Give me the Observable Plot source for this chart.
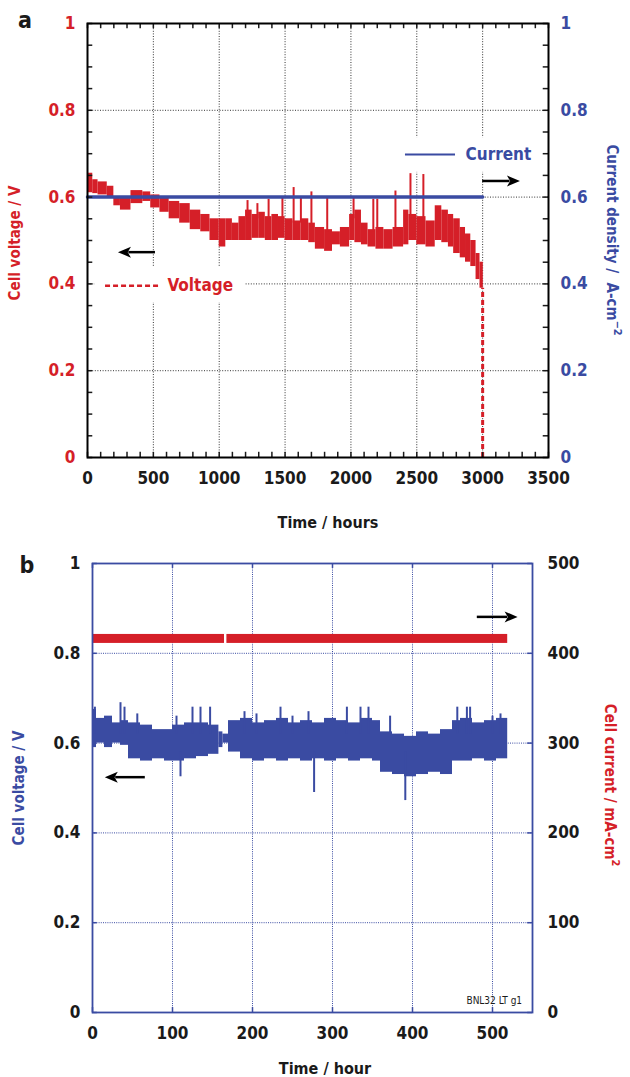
<!DOCTYPE html>
<html><head><meta charset="utf-8">
<script src="https://cdn.jsdelivr.net/npm/d3@7"></script>
<script src="https://cdn.jsdelivr.net/npm/@observablehq/plot@0.6"></script>
<style>
body{margin:0;background:#fff;}
#wrap{position:relative;width:630px;height:1077px;overflow:hidden;background:#fff;}
#pa{position:absolute;left:0;top:0;}
#pb{position:absolute;left:0;top:540px;}
</style></head><body><div id="wrap"><div id="pa"></div><div id="pb"></div></div>
<script>
// ---------- Panel a data ----------
const voltT  = [0,40,80,150,200,250,330,420,480,550,620,700,780,860,930,
  1000,1050,1100,1150,1200,1250,1300,1350,1400,1450,1500,1560,1620,1680,1730,1800,1860,1920,
  1990,2030,2080,2130,2190,2250,2320,2400,2440,2500,2570,2640,2690,2740,2780,2830,2870,2910,2950,2980];
const voltEnd = 3005;
const voltLo = [0.61,0.608,0.605,0.6,0.58,0.57,0.585,0.59,0.575,0.565,0.55,0.54,0.525,0.52,0.5,
  0.485,0.5,0.5,0.5,0.5,0.505,0.505,0.5,0.5,0.505,0.5,0.5,0.5,0.495,0.48,0.475,0.49,0.485,
  0.5,0.495,0.49,0.485,0.48,0.48,0.485,0.49,0.5,0.49,0.485,0.5,0.495,0.485,0.47,0.46,0.45,0.44,0.41,0.39];
const voltHi = [0.655,0.64,0.635,0.625,0.6,0.6,0.615,0.612,0.605,0.6,0.59,0.585,0.57,0.56,0.55,
  0.55,0.55,0.54,0.555,0.57,0.56,0.565,0.555,0.56,0.555,0.55,0.545,0.55,0.54,0.53,0.525,0.52,0.53,
  0.56,0.57,0.54,0.525,0.53,0.525,0.53,0.57,0.56,0.555,0.545,0.58,0.57,0.56,0.55,0.53,0.515,0.5,0.47,0.45];
const spikeAT    = [1215,1290,1375,1480,1565,1620,1700,1820,2020,2170,2200,2338,2452,2550];
const spikeATop  = [0.592,0.585,0.595,0.6,0.622,0.6,0.612,0.597,0.6,0.595,0.595,0.614,0.654,0.652];
const spikeABase = [0.55,0.55,0.55,0.54,0.54,0.54,0.53,0.52,0.55,0.52,0.52,0.52,0.55,0.55];
const dropAT = [3000], dropAFrom = [0.39], dropATo = [0];
const currAT = [0, 3000];
const currAV = [0.6, 0.6];
const xTicksA = [0,500,1000,1500,2000,2500,3000,3500];
const yTicksA = [0,0.2,0.4,0.6,0.8,1];

// ---------- Panel b data ----------
const voltBT  = [0,5,15,25,35,45,60,75,90,100,115,130,145,158,163,170,185,200,215,230,245,260,275,290,305,320,335,350,360,375,390,405,420,435,450,460,475,490,505];
const voltBEnd = 519;
const voltBLo = [0.59,0.6,0.59,0.6,0.595,0.565,0.56,0.565,0.56,0.56,0.565,0.57,0.575,0.59,0.6,0.58,0.565,0.56,0.565,0.56,0.565,0.56,0.565,0.56,0.565,0.56,0.565,0.56,0.535,0.53,0.525,0.53,0.535,0.53,0.56,0.56,0.565,0.56,0.565];
const voltBHi = [0.675,0.655,0.66,0.645,0.65,0.645,0.64,0.63,0.63,0.64,0.645,0.645,0.64,0.625,0.62,0.65,0.655,0.645,0.65,0.655,0.645,0.65,0.645,0.655,0.65,0.645,0.655,0.65,0.625,0.62,0.615,0.625,0.62,0.63,0.65,0.655,0.645,0.65,0.655];
const upBT   = [3,35,40,56,105,125,135,147,190,205,235,250,270,318,335,345,372,456,468,472,500,510];
const upBTop = [0.68,0.69,0.68,0.665,0.66,0.68,0.68,0.68,0.67,0.665,0.68,0.66,0.67,0.68,0.68,0.68,0.66,0.68,0.68,0.68,0.66,0.665];
const upBBase = 0.62;
const dnBT   = [110,277,391];
const dnBBot = [0.525,0.49,0.472];
const dnBTop = 0.58;
const currBStart = [0,168];
const currBEnd   = [165,519];
const currBLo = 411, currBHi = 421;   // mA/cm2
const xTicksB = [0,100,200,300,400,500];
const yTicksB = [0,0.2,0.4,0.6,0.8,1];
const yTicksBRight = [0,100,200,300,400,500];

// ---------- styling ----------
const RED = "#d51f28", BLUE = "#3a4ba2", BLK = "#1a1a1a";
const FONT = "'DejaVu Sans Condensed','DejaVu Sans',sans-serif";
const fmt1 = d => String(+(+d).toFixed(1));

// ---------- Panel a ----------
const voltRows = voltT.map((t,i)=>({x1:t, x2: i<voltT.length-1 ? voltT[i+1] : voltEnd, lo: voltLo[i], hi: voltHi[i]}));
const spikeRows = spikeAT.map((t,i)=>({t, b: spikeABase[i], top: spikeATop[i]}));
const dropRows = dropAT.map((t,i)=>({t, from: dropAFrom[i], to: dropATo[i]}));
const currRows = currAT.map((t,i)=>({t, v: currAV[i]}));
const minorXA = d3.range(0, 3501, 100), minorYA = d3.range(0, 1.0001, 0.05);
const tkxA = 40, tkyA = 0.012;

const plotA = Plot.plot({
  width: 630, height: 540,
  marginTop: 23, marginBottom: 83, marginLeft: 87, marginRight: 82,
  x: {domain: [0, 3500]}, y: {domain: [0, 1]},
  style: {fontFamily: FONT, fontSize: "17px", fontWeight: "bold", background: "white", overflow: "visible", fontStretch: "condensed"},
  marks: [
    Plot.ruleX([500,1000,1500,2000,2500,3000], {stroke: "#333", strokeDasharray: "1,1.6", strokeWidth: 1}),
    Plot.ruleY([0.2,0.4,0.6,0.8], {stroke: "#333", strokeDasharray: "1,1.6", strokeWidth: 1}),
    Plot.rect([{x1:60,x2:1200,y1:0.357,y2:0.438},{x1:2376,x2:3439,y1:0.657,y2:0.737}], {x1:"x1",x2:"x2",y1:"y1",y2:"y2",fill:"white"}),
    Plot.rect(voltRows, {x1:"x1", x2:"x2", y1:"lo", y2:"hi", fill: RED}),
    Plot.ruleX(spikeRows, {x:"t", y1:"b", y2:"top", stroke: RED, strokeWidth: 2}),
    Plot.ruleX(dropRows, {x:"t", y1:"to", y2:"from", stroke: RED, strokeWidth: 3, strokeDasharray: "5,3"}),
    Plot.line(currRows, {x:"t", y:"v", stroke: BLUE, strokeWidth: 3.5}),
    // legend
    Plot.ruleY([0.396], {x1: 137, x2: 554, stroke: RED, strokeWidth: 2.5, strokeDasharray: "5,3"}),
    Plot.text(["Voltage"], {x: 607, y: 0.396, text: d=>d, textAnchor: "start", fill: RED, fontSize: 17, fontWeight: "bold"}),
    Plot.ruleY([0.698], {x1: 2414, x2: 2794, stroke: BLUE, strokeWidth: 2}),
    Plot.text(["Current"], {x: 2870, y: 0.698, text: d=>d, textAnchor: "start", fill: BLUE, fontSize: 17, fontWeight: "bold"}),
    // inward ticks
    Plot.ruleX(minorXA, {x: d=>d, y1: 0, y2: tkyA, stroke: BLK, strokeWidth: 1.5}),
    Plot.ruleX(minorXA, {x: d=>d, y1: 1-tkyA, y2: 1, stroke: BLK, strokeWidth: 1.5}),
    Plot.ruleY(minorYA, {y: d=>d, x1: 0, x2: tkxA, stroke: BLK, strokeWidth: 1.5}),
    Plot.ruleY(minorYA, {y: d=>d, x1: 3500-tkxA, x2: 3500, stroke: BLK, strokeWidth: 1.5}),
    Plot.axisX({anchor: "bottom", ticks: xTicksA, tickSize: 0, tickPadding: 14, tickFormat: d=>String(d), label: null, fill: BLK}),
    Plot.axisY({anchor: "left", ticks: yTicksA, tickSize: 0, tickPadding: 12, tickFormat: fmt1, label: null, fill: RED}),
    Plot.axisY({anchor: "right", ticks: yTicksA, tickSize: 0, tickPadding: 12, tickFormat: fmt1, label: null, fill: BLUE}),
    Plot.frame({stroke: "#000", strokeWidth: 2})
  ]
});
document.getElementById("pa").appendChild(plotA);

// ---------- Panel b ----------
const voltBRows = voltBT.map((t,i)=>({x1:t, x2: i<voltBT.length-1 ? voltBT[i+1] : voltBEnd, lo: voltBLo[i], hi: voltBHi[i]}));
const upRows = upBT.map((t,i)=>({t, b: upBBase, top: upBTop[i]}));
const dnRows = dnBT.map((t,i)=>({t, b: dnBBot[i], top: dnBTop}));
const currBRows = currBStart.map((s,i)=>({x1: s, x2: currBEnd[i], lo: currBLo, hi: currBHi}));
const tkxB = 6, tkyB = 0.011;

const plotB = Plot.plot({
  width: 630, height: 537,
  marginTop: 23, marginBottom: 65, marginLeft: 92, marginRight: 98,
  x: {domain: [0, 550]}, y: {domain: [0, 1]},
  style: {fontFamily: FONT, fontSize: "17px", fontWeight: "bold", background: "white", overflow: "visible", fontStretch: "condensed"},
  marks: [
    Plot.ruleX([100,200,300,400,500], {stroke: BLUE, strokeDasharray: "1,1.2", strokeWidth: 1}),
    Plot.ruleY([0.2,0.4,0.6,0.8], {stroke: BLUE, strokeDasharray: "1,1.2", strokeWidth: 1}),
    Plot.rect(voltBRows, {x1:"x1", x2:"x2", y1:"lo", y2:"hi", fill: BLUE}),
    Plot.ruleX(upRows, {x:"t", y1:"b", y2:"top", stroke: BLUE, strokeWidth: 2}),
    Plot.ruleX(dnRows, {x:"t", y1:"b", y2:"top", stroke: BLUE, strokeWidth: 2}),
    Plot.rect(currBRows, {x1:"x1", x2:"x2", y1: d=>d.lo/500, y2: d=>d.hi/500, fill: RED}),
    Plot.text(["BNL32 LT g1"], {x: 537, y: 0.027, text: d=>d, textAnchor: "end", fill: BLK, fontSize: 10, fontWeight: "normal"}),
    Plot.ruleX(xTicksB, {x: d=>d, y1: 0, y2: tkyB, stroke: BLUE, strokeWidth: 1.5}),
    Plot.ruleX(xTicksB, {x: d=>d, y1: 1-tkyB, y2: 1, stroke: BLUE, strokeWidth: 1.5}),
    Plot.ruleY(yTicksB, {y: d=>d, x1: 0, x2: tkxB, stroke: BLUE, strokeWidth: 1.5}),
    Plot.ruleY(yTicksB, {y: d=>d, x1: 550-tkxB, x2: 550, stroke: BLUE, strokeWidth: 1.5}),
    Plot.axisX({anchor: "bottom", ticks: xTicksB, tickSize: 0, tickPadding: 14, tickFormat: d=>String(d), label: null, fill: BLK}),
    Plot.axisY({anchor: "left", ticks: yTicksB, tickSize: 0, tickPadding: 12, tickFormat: fmt1, label: null, fill: BLK}),
    Plot.axisY({anchor: "right", ticks: yTicksBRight.map(d=>d/500), tickSize: 0, tickPadding: 15, tickFormat: d=>String(Math.round(d*500)), label: null, fill: BLK}),
    Plot.frame({stroke: BLUE, strokeWidth: 1.8})
  ]
});
document.getElementById("pb").appendChild(plotB);

// ---------- annotations: titles, arrows ----------
function addTitle(svg, x, y, rot, parts, fill, size) {
  const t = d3.select(svg).append("text")
    .attr("transform", `translate(${x},${y}) rotate(${rot})`)
    .attr("text-anchor", "middle").attr("fill", fill)
    .attr("font-family", FONT).attr("font-size", size).attr("font-weight", "bold")
    .attr("font-stretch", "condensed").attr("dy", "0.35em");
  parts.forEach(p => {
    const s = t.append("tspan").text(p.t);
    if (p.sup) s.attr("font-size", size*0.72).attr("dy", -size*0.45);
  });
}
function addArrow(plot, x1, y1, x2, y2) {
  const sx = plot.scale("x"), sy = plot.scale("y");
  const ax = sx.apply(x1), ay = sy.apply(y1), bx = sx.apply(x2), by = sy.apply(y2);
  const dir = Math.sign(bx - ax), L = 13, W = 5.5;
  const g = d3.select(plot).append("g");
  g.append("line").attr("x1", ax).attr("y1", ay).attr("x2", bx - dir*L*0.8).attr("y2", by)
    .attr("stroke", "#000").attr("stroke-width", 2.5);
  g.append("path").attr("d", `M${bx},${by} L${bx-dir*L},${by-W} L${bx-dir*L*0.75},${by} L${bx-dir*L},${by+W} Z`).attr("fill", "#000");
}

addTitle(plotA, 15, 243, -90, [{t: "Cell voltage / V"}], RED, 15);
addTitle(plotA, 612, 240, 90, [{t: "Current density /  A-cm"}, {t: "\u22122", sup: true}], BLUE, 15);
addTitle(plotA, 328, 522, 0, [{t: "Time / hours"}], BLK, 16);
d3.select(plotA).append("text").attr("x", 25).attr("y", 28).attr("text-anchor", "middle")
  .attr("font-family", "'DejaVu Sans',sans-serif").attr("font-weight", "bold").attr("font-size", 23).attr("fill", BLK).text("a");
addArrow(plotA, 516, 0.472, 235, 0.472);
addArrow(plotA, 3000, 0.636, 3287, 0.636);

addTitle(plotB, 19, 248, -90, [{t: "Cell voltage / V"}], BLUE, 15);
addTitle(plotB, 610, 245, 90, [{t: "Cell current / mA-cm"}, {t: "2", sup: true}], RED, 15);
addTitle(plotB, 325, 528, 0, [{t: "Time / hour"}], BLK, 16);
d3.select(plotB).append("text").attr("x", 27).attr("y", 33).attr("text-anchor", "middle")
  .attr("font-family", "'DejaVu Sans',sans-serif").attr("font-weight", "bold").attr("font-size", 23).attr("fill", BLK).text("b");
addArrow(plotB, 66, 0.523, 16, 0.523);
addArrow(plotB, 481, 0.88, 532, 0.88);
</script>
</body></html>
